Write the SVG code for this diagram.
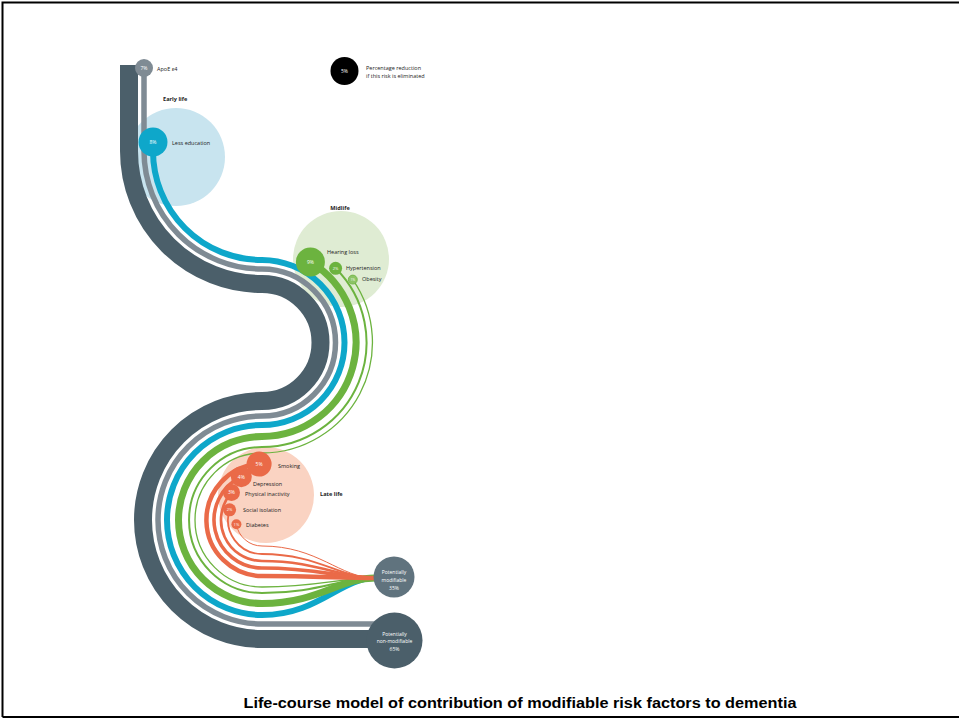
<svg xmlns="http://www.w3.org/2000/svg" width="959" height="720" viewBox="0 0 959 720">
<style>
.band{fill:none;stroke-linecap:butt}
.lbl{font-family:"Open Sans","Noto Sans",sans-serif;font-size:5.5px;fill:#222}
.stage{font-family:"Open Sans","Noto Sans",sans-serif;font-size:5.6px;font-weight:700;fill:#222}
.pct{font-family:"Open Sans","Noto Sans",sans-serif;font-size:5px;fill:#fff;text-anchor:middle}
.pcts{font-family:"Open Sans","Noto Sans",sans-serif;font-size:4px;fill:#fff;text-anchor:middle}
.dark{stroke:#4b5f6a}.grey{stroke:#7f8b94}.cyan{stroke:#0ea7ca}.green{stroke:#6cb33f}.orange{stroke:#ea6a48}
.fgrey{fill:#7f8b94}.fcyan{fill:#0ea7ca}.fgreen{fill:#6cb33f}.forange{fill:#ea6a48}
</style>
<rect width="959" height="720" fill="#fff"/>
<path d="M2.5,717 V2.5 H959 M2.5,717 H959" fill="none" stroke="#000" stroke-width="2"/>

<g id="stage-backgrounds">
<circle cx="176" cy="157" r="49" fill="#c8e4ef"/>
<circle cx="341" cy="259" r="48" fill="#dfecd3"/>
<circle cx="266" cy="495" r="48" fill="#fad3c2"/>
</g>

<g id="connectors">
<path class="band dark" stroke-width="18" d="M129,65 V151 A133,133 0 0 0 262,284 A58.5,58.5 0 0 1 262,401 A119,119 0 0 0 262,639 H385"/>
<path class="band grey" stroke-width="5.5" d="M144,68 V151 A118,118 0 0 0 262,269 A73.5,73.5 0 0 1 262,416 A104,104 0 0 0 262,624 H385"/>
<path class="band cyan" stroke-width="6" d="M153,142 V151 A109,109 0 0 0 262,260 A82.5,82.5 0 0 1 262,425 A95,95 0 0 0 262,615 C318,615 340,578 375,578"/>
<path class="band green" stroke-width="7" d="M310.4,261.9 A94,94 0 0 1 262,436.5 A83.5,83.5 0 0 0 262,603.5 C318,603.5 340,578 375,578"/>
<path class="band green" stroke-width="2" d="M335.6,268.3 A104.5,104.5 0 0 1 262,447 A73,73 0 0 0 262,593 C318,593 340,578 375,578"/>
<path class="band green" stroke-width="1.3" d="M352.8,279.6 A110.5,110.5 0 0 1 262,453 A67,67 0 0 0 262,587 C318,587 340,578 375,578"/>
<path class="band orange" stroke-width="4.5" d="M259.1,464.1 A56,56 0 0 0 262,576 C318,576 340,578 375,578"/>
<path class="band orange" stroke-width="3.6" d="M241.3,476.7 A48,48 0 0 0 262,568 C318,568 340,578 375,578"/>
<path class="band orange" stroke-width="2.7" d="M231.5,492.6 A41,41 0 0 0 262,561 C318,561 340,578 375,578"/>
<path class="band orange" stroke-width="1.8" d="M229.6,509.8 A34,34 0 0 0 262,554 C318,554 340,578 375,578"/>
<path class="band orange" stroke-width="1" d="M236.4,524.3 A26,26 0 0 0 262,546 C318,546 340,578 375,578"/>
</g>

<g id="legend">
<circle cx="344.5" cy="71" r="14" fill="#000"/>
<text class="pct" x="344.5" y="73">5%</text>
<text class="lbl" x="366" y="70">Percentage reduction</text>
<text class="lbl" x="366" y="77.5">if this risk is eliminated</text>
</g>

<g id="early-life">
<text class="stage" x="163" y="101">Early life</text>
</g>
<g id="apoe">
<circle class="fgrey" cx="144" cy="68" r="9"/>
<text class="pct" x="144" y="70">7%</text>
<text class="lbl" x="157" y="71">ApoE ε4</text>
</g>
<g id="education">
<circle class="fcyan" cx="153" cy="142" r="14.5"/>
<text class="pct" x="153" y="144">8%</text>
<text class="lbl" x="172" y="145">Less education</text>
</g>

<g id="midlife">
<text class="stage" x="340" y="210" text-anchor="middle">Midlife</text>
</g>
<g id="hearing-loss">
<circle class="fgreen" cx="310.4" cy="261.9" r="14.5"/>
<text class="pct" x="310.4" y="263.9">9%</text>
<text class="lbl" x="327" y="254">Hearing loss</text>
</g>
<g id="hypertension">
<circle class="fgreen" cx="335.6" cy="268.3" r="6.5"/>
<text class="pcts" x="335.6" y="269.8">2%</text>
<text class="lbl" x="346" y="269.5">Hypertension</text>
</g>
<g id="obesity">
<circle cx="352.8" cy="279.6" r="4.5" fill="#8cc466" stroke="#6cb33f" stroke-width="0.8"/>
<text class="pcts" x="352.8" y="281" style="font-size:3.4px">1%</text>
<text class="lbl" x="362" y="281">Obesity</text>
</g>

<g id="late-life">
<text class="stage" x="320" y="496">Late life</text>
</g>
<g id="smoking">
<circle class="forange" cx="259.1" cy="464.1" r="12.5"/>
<text class="pct" x="259.1" y="466">5%</text>
<text class="lbl" x="278" y="467.5">Smoking</text>
</g>
<g id="depression">
<circle class="forange" cx="241.3" cy="476.7" r="10.5"/>
<text class="pct" x="241.3" y="478.6">4%</text>
<text class="lbl" x="253" y="485.5">Depression</text>
</g>
<g id="physical-inactivity">
<circle class="forange" cx="231.5" cy="492.6" r="8.5"/>
<text class="pct" x="231.5" y="494.4">3%</text>
<text class="lbl" x="245" y="496">Physical inactivity</text>
</g>
<g id="social-isolation">
<circle class="forange" cx="229.6" cy="509.8" r="6.5"/>
<text class="pcts" x="229.6" y="511.3">2%</text>
<text class="lbl" x="243" y="512">Social isolation</text>
</g>
<g id="diabetes">
<circle class="forange" cx="236.4" cy="524.3" r="5"/>
<text class="pcts" x="236.4" y="525.7">1%</text>
<text class="lbl" x="246" y="527">Diabetes</text>
</g>

<g id="potentially-modifiable">
<circle cx="394" cy="577" r="20.5" fill="#60737e"/>
<text class="pct" x="394" y="574">Potentially</text>
<text class="pct" x="394" y="581.5">modifiable</text>
<text class="pct" x="394" y="589.5">35%</text>
</g>
<g id="potentially-non-modifiable">
<circle cx="394.5" cy="640.5" r="28" fill="#4b5f6a"/>
<text class="pct" x="394.5" y="636">Potentially</text>
<text class="pct" x="394.5" y="643">non-modifiable</text>
<text class="pct" x="394.5" y="650.5">65%</text>
</g>

<text x="520" y="708" text-anchor="middle" font-family="'Liberation Sans',Arial,sans-serif" font-size="14" font-weight="700" fill="#000" textLength="553" lengthAdjust="spacingAndGlyphs">Life-course model of contribution of modifiable risk factors to dementia</text>
</svg>
